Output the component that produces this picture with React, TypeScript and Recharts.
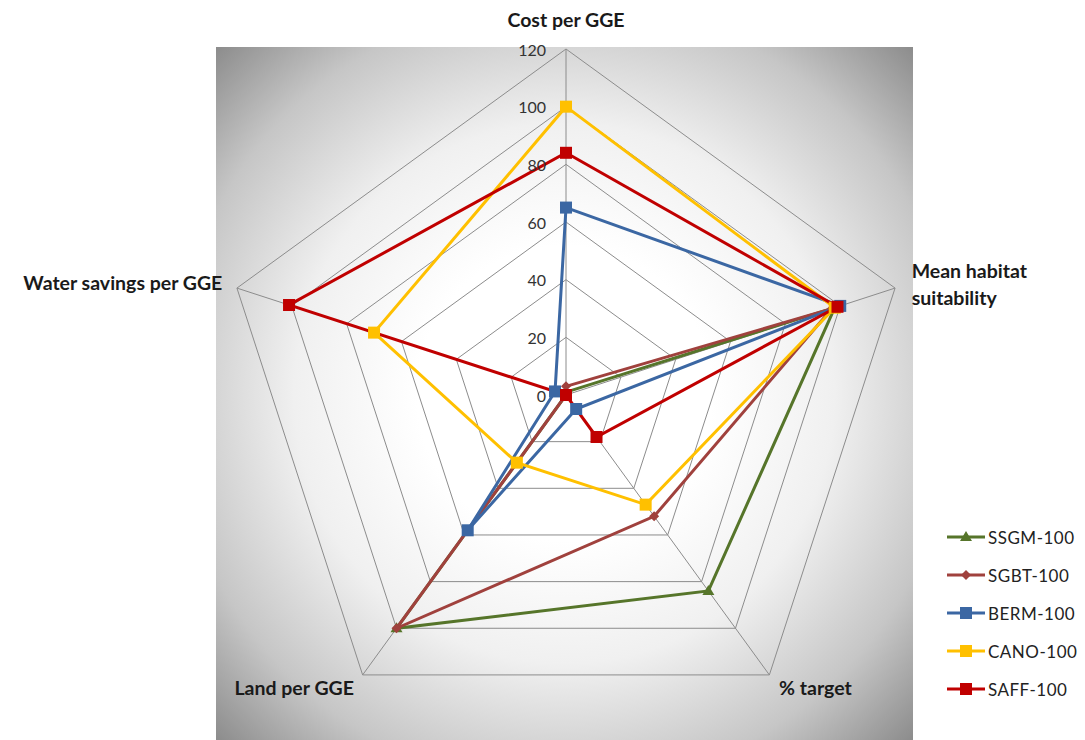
import { Legend, PolarAngleAxis, PolarGrid, PolarRadiusAxis, Radar, RadarChart } from 'recharts'

const categories = ['Cost per GGE', 'Mean habitat suitability', '% target', 'Land per GGE', 'Water savings per GGE']
const ssgm = [1, 98, 84, 100, 0]
const sgbt = [3, 97, 52, 100, 0]
const berm = [65, 100, 6, 58, 4]
const cano = [100, 98, 47, 29, 70]
const saff = [84, 99, 18, 0, 101]
const radiusTicks = [0, 20, 40, 60, 80, 100, 120]

const series = [
	{ key: 'SSGM-100', values: ssgm, color: '#56752A', marker: 'triangle' },
	{ key: 'SGBT-100', values: sgbt, color: '#A0413D', marker: 'diamond' },
	{ key: 'BERM-100', values: berm, color: '#3B67A3', marker: 'square' },
	{ key: 'CANO-100', values: cano, color: '#FFC000', marker: 'square' },
	{ key: 'SAFF-100', values: saff, color: '#C00000', marker: 'square' },
]

const data = categories.map((c, i) => {
	const row = { axis: c }
	series.forEach(s => { row[s.key] = s.values[i] })
	return row
})

const FONT = 'Lato, "Open Sans", sans-serif'

const Marker = ({ cx, cy, shape, color }) => {
	if (cx == null || cy == null) return null
	if (shape === 'triangle')
		return <polygon points={`${cx},${cy - 6} ${cx - 6},${cy + 4} ${cx + 6},${cy + 4}`} fill={color} />
	if (shape === 'diamond')
		return <polygon points={`${cx},${cy - 5} ${cx + 5},${cy} ${cx},${cy + 5} ${cx - 5},${cy}`} fill={color} />
	return <rect x={cx - 6} y={cy - 6} width={12} height={12} fill={color} />
}

const AngleTick = ({ x, y, payload }) => {
	const v = payload.value
	const st = { fontFamily: FONT, fontWeight: 700, fontSize: 19.5, fill: '#1a1a1a' }
	if (v === 'Cost per GGE')
		return <text x={x} y={y - 22} textAnchor='middle' dominantBaseline='central' {...st}>{v}</text>
	if (v === 'Mean habitat suitability')
		return <g>
			<text x={x + 9} y={y - 15} textAnchor='start' dominantBaseline='central' {...st}>Mean habitat</text>
			<text x={x + 9} y={y + 12} textAnchor='start' dominantBaseline='central' {...st}>suitability</text>
		</g>
	if (v === '% target')
		return <text x={x + 5} y={y + 6} textAnchor='start' dominantBaseline='central' {...st}>{v}</text>
	if (v === 'Land per GGE')
		return <text x={x - 4} y={y + 6} textAnchor='end' dominantBaseline='central' {...st}>{v}</text>
	return <text x={x - 7} y={y - 3} textAnchor='end' dominantBaseline='central' {...st}>{v}</text>
}

const RadiusTick = ({ x, y, payload }) => (
	<text x={x - 20} y={y} textAnchor='end' dominantBaseline='central' fontFamily={FONT} fontSize={16} fill='#333'>
		{payload.value}
	</text>
)

const LegendContent = () => (
	<div>
		{series.map(s => (
			<div key={s.key} style={{ display: 'flex', alignItems: 'center', height: 38 }}>
				<svg width={40} height={16}>
					<line x1={1} y1={8} x2={39} y2={8} stroke={s.color} strokeWidth={3} />
					<Marker cx={20} cy={8} shape={s.marker} color={s.color} />
				</svg>
				<span style={{ fontFamily: FONT, fontSize: 17, color: '#222', marginLeft: 2, letterSpacing: 0.5 }}>{s.key}</span>
			</div>
		))}
	</div>
)

export default function App() {
	return (
		<div style={{ position: 'fixed', left: 0, top: 0, width: 1085, height: 740, background: '#fff' }}>
			<div style={{
				position: 'absolute', left: 216, top: 47, width: 697, height: 693,
				background: 'radial-gradient(circle farthest-corner at 50% 50%, #ffffff 0%, #ffffff 30%, #f0f0f0 55%, #c6c6c6 80%, #8c8c8c 100%)',
			}} />
			<div style={{ position: 'absolute', left: 0, top: 0 }}>
				<RadarChart width={1085} height={740} data={data} cx={566} cy={395} outerRadius={346}>
					<PolarGrid gridType='polygon' stroke='#8c8c8c' strokeWidth={1} />
					<PolarAngleAxis dataKey='axis' tick={AngleTick} tickLine={false} axisLine={false} />
					<PolarRadiusAxis angle={90} domain={[0, 120]} ticks={radiusTicks} tick={RadiusTick}
						axisLine={false} tickLine={false} />
					{series.map(s => (
						<Radar key={s.key} name={s.key} dataKey={s.key} stroke={s.color} strokeWidth={3} fill='none'
							fillOpacity={0} isAnimationActive={false}
							dot={(p) => <Marker key={`${s.key}-${p.index}`} cx={p.cx} cy={p.cy} shape={s.marker} color={s.color} />} />
					))}
					<Legend content={LegendContent} wrapperStyle={{ position: 'absolute', left: 946, top: 518, width: 140 }} />
				</RadarChart>
			</div>
		</div>
	)
}
